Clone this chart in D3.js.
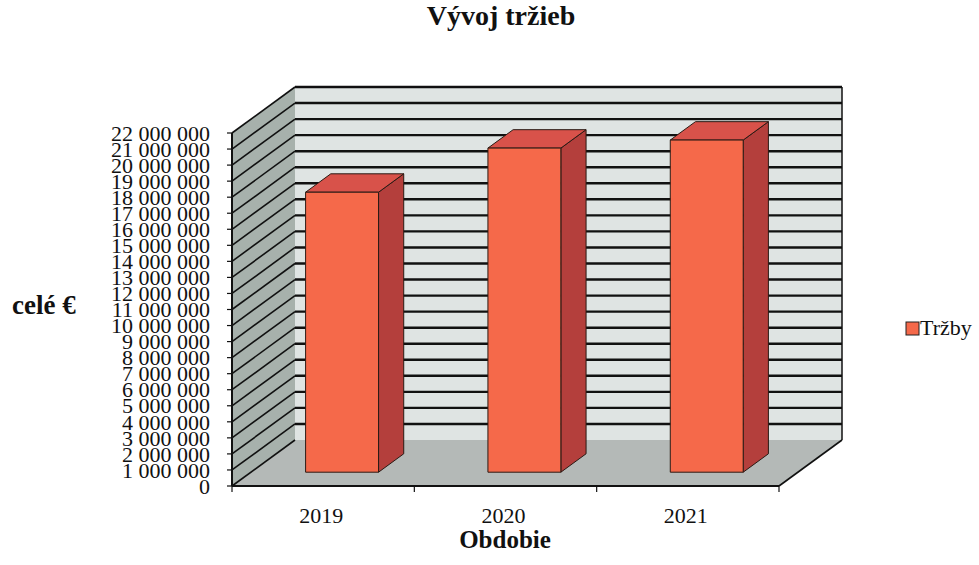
<!DOCTYPE html>
<html><head><meta charset="utf-8">
<script src="https://cdn.jsdelivr.net/npm/d3@7"></script>
<style>
body{margin:0;background:#fff;}
svg{display:block;font-family:"Liberation Serif","Times New Roman",serif;}
</style></head>
<body><svg id="c" width="979" height="565"></svg>
<script>
const categories = ["2019","2020","2021"];
const seriesName = "Tržby";
const values = [17450000, 20200000, 20700000];
const yTicks = d3.range(0, 22000001, 1000000);
const title = "Vývoj tržieb";
const yTitle = "celé €";
const xTitle = "Obdobie";

const svg = d3.select("#c");
const fmt = d3.formatLocale({decimal:",", thousands:" ", grouping:[3], currency:["","€"]}).format(",d");

const X0 = 232, X1 = 779, Y0 = 486, Y1 = 133;
const DX = 63, DY = -46;
const y = d3.scaleLinear().domain([0, 22000000]).range([Y0, Y1]);
const x = d3.scaleBand().domain(categories).range([X0, X1]).paddingInner(0.6).paddingOuter(0.3);
const P = (xf, v, d) => [xf + DX*d, y(v) + DY*d];
const poly = pts => pts.map(p => p.join(",")).join(" ");

// left wall
svg.append("polygon").attr("points", poly([P(X0,0,0),P(X0,22e6,0),P(X0,22e6,1),P(X0,0,1)]))
  .attr("fill","#a7b1ac");
// back wall
svg.append("polygon").attr("points", poly([P(X0,0,1),P(X0,22e6,1),P(X1,22e6,1),P(X1,0,1)]))
  .attr("fill","#dfe4e3");
// floor
svg.append("polygon").attr("points", poly([P(X0,0,0),P(X0,0,1),P(X1,0,1),P(X1,0,0)]))
  .attr("fill","#b4b9b7");

// gridlines on back wall and left wall
const g = svg.append("g").attr("stroke","#111").attr("fill","none");
yTicks.forEach(v => {
  const a = P(X0,v,1), b = P(X1,v,1), f = P(X0,v,0);
  if (v > 0) g.append("line").attr("x1",a[0]).attr("y1",a[1]).attr("x2",b[0]).attr("y2",b[1]).attr("stroke-width",2.4);
  g.append("line").attr("x1",f[0]).attr("y1",f[1]).attr("x2",a[0]).attr("y2",a[1]).attr("stroke-width",1.6);
});
// wall edges
const e1 = P(X1,22e6,1), e2 = P(X1,0,1), e3 = P(X0,22e6,1);
g.append("line").attr("x1",e1[0]).attr("y1",e1[1]).attr("x2",e2[0]).attr("y2",e2[1]).attr("stroke-width",1.5);
g.append("line").attr("x1",e3[0]).attr("y1",e3[1]).attr("x2",e1[0]).attr("y2",e1[1]).attr("stroke-width",1.5);
// floor edges
const f1 = P(X1,0,0), f2 = P(X1,0,1);
g.append("line").attr("x1",f1[0]).attr("y1",f1[1]).attr("x2",f2[0]).attr("y2",f2[1]).attr("stroke-width",1.6);

// bars
const D0 = 0.3, D1 = 0.7;
const bars = svg.append("g").attr("stroke","#2a1a14").attr("stroke-width",1).attr("stroke-linejoin","round");
categories.forEach((c, i) => {
  const xl = x(c), xr = x(c) + x.bandwidth(), v = values[i];
  bars.append("polygon").attr("points", poly([P(xr,0,D0),P(xr,v,D0),P(xr,v,D1),P(xr,0,D1)])).attr("fill","#b43f3c");
  bars.append("polygon").attr("points", poly([P(xl,v,D0),P(xl,v,D1),P(xr,v,D1),P(xr,v,D0)])).attr("fill","#d8524a");
  bars.append("polygon").attr("points", poly([P(xl,0,D0),P(xl,v,D0),P(xr,v,D0),P(xr,0,D0)])).attr("fill","#f5694a");
});

// front axes
const ax = svg.append("g").attr("stroke","#111");
ax.append("line").attr("x1",X0).attr("y1",Y0).attr("x2",X0).attr("y2",Y1).attr("stroke-width",2);
ax.append("line").attr("x1",X0).attr("y1",Y0).attr("x2",X1).attr("y2",Y0).attr("stroke-width",2);
yTicks.forEach(v => ax.append("line").attr("x1",X0-5).attr("x2",X0).attr("y1",y(v)).attr("y2",y(v)).attr("stroke-width",1.2));
const step = x.step();
[0,1,2,3].forEach(k => {
  const xx = X0 + k*step;
  ax.append("line").attr("x1",xx).attr("x2",xx).attr("y1",Y0).attr("y2",Y0+6).attr("stroke-width",1.2);
});

// y labels
svg.append("g").selectAll("text").data(yTicks).join("text")
  .attr("x",210).attr("y",d=>y(d)).attr("dy","0.35em").attr("text-anchor","end")
  .attr("font-size",22).attr("fill","#111").text(d=>fmt(d));

// x labels
svg.append("g").selectAll("text").data(categories).join("text")
  .attr("x",d=>x(d)+x.bandwidth()/2 - 2).attr("y",523).attr("text-anchor","middle")
  .attr("font-size",22).attr("fill","#111").text(d=>d);

// titles
svg.append("text").attr("x",501).attr("y",25).attr("text-anchor","middle").attr("font-size",28).attr("font-weight","bold").attr("fill","#111").text(title);
svg.append("text").attr("x",12).attr("y",314).attr("font-size",27).attr("font-weight","bold").attr("fill","#111").text(yTitle);
svg.append("text").attr("x",505).attr("y",548).attr("text-anchor","middle").attr("font-size",25).attr("font-weight","bold").attr("fill","#111").text(xTitle);

// legend
svg.append("rect").attr("x",906).attr("y",322).attr("width",13).attr("height",13).attr("fill","#f5694a").attr("stroke","#222").attr("stroke-width",1);
svg.append("text").attr("x",920).attr("y",335).attr("font-size",22).attr("fill","#111").text(seriesName);
</script></body></html>
